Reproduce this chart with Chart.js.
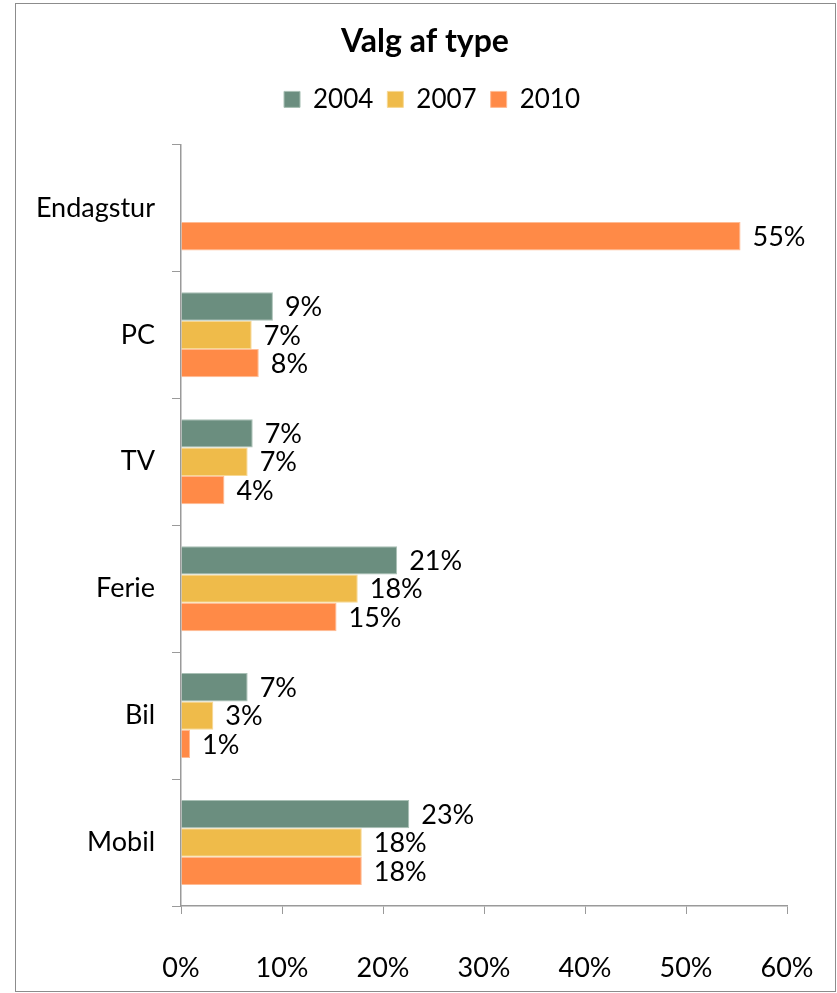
<!DOCTYPE html>
<html>
<head>
<meta charset="utf-8">
<script src="https://cdn.jsdelivr.net/npm/chart.js@4/dist/chart.umd.min.js"></script>
<style>
  html, body { margin: 0; padding: 0; background: #fff; }
  #wrap { position: relative; width: 837px; height: 993px; }
</style>
</head>
<body>
<div id="wrap"><canvas id="c" width="837" height="993"></canvas></div>
<script>
// Survey: chosen prize type, share of answers per year
const categories = ['Endagstur', 'PC', 'TV', 'Ferie', 'Bil', 'Mobil'];
const years = ['2004', '2007', '2010'];
const values2004 = [null, 9.1, 7.1, 21.4, 6.6, 22.6];
const values2007 = [null, 7.0, 6.6, 17.5, 3.2, 17.9];
const values2010 = [55.4, 7.7, 4.3, 15.4, 0.9, 17.9];
const xTicks = [0, 10, 20, 30, 40, 50, 60];

const FONT = 'Lato, "Open Sans", sans-serif';
const AXIS_GREY = '#9a9a9a';

// Percent labels written just past the end of each bar
const barLabels = {
  id: 'barLabels',
  afterDatasetsDraw(chart) {
    const ctx = chart.ctx;
    ctx.save();
    ctx.font = '27px ' + FONT;
    ctx.fillStyle = '#000';
    ctx.textAlign = 'left';
    ctx.textBaseline = 'middle';
    chart.data.datasets.forEach((ds, i) => {
      const meta = chart.getDatasetMeta(i);
      meta.data.forEach((el, j) => {
        const v = ds.data[j];
        if (v === null || v === undefined) return;
        ctx.fillText(Math.round(v) + '%', el.x + 12, el.y + 1);
      });
    });
    ctx.restore();
  }
};

// Extra room under the legend, and title/legend centred on the framed area
const headerLayout = {
  id: 'headerLayout',
  beforeLayout(chart) {
    const lg = chart.legend;
    if (lg && !lg._gapPatched) {
      lg._gapPatched = true;
      const baseFit = lg.fit;
      lg.fit = function () {
        baseFit.call(this);
        this.height += 22;
      };
    }
  },
  afterLayout(chart) {
    if (chart.titleBlock) {
      chart.titleBlock.left = 15;
      chart.titleBlock.right = 835;
      chart.titleBlock.width = 820;
    }
    if (chart.legend) {
      chart.legend.left = 29;
      chart.legend.right = 835;
      chart.legend.width = 806;
    }
  }
};

// Thin grey frame around the whole chart
const frame = {
  id: 'frame',
  afterDraw(chart) {
    const ctx = chart.ctx;
    ctx.save();
    ctx.strokeStyle = '#8c8c8c';
    ctx.lineWidth = 1;
    ctx.strokeRect(15.5, 3.5, 820, 988);
    ctx.restore();
  }
};

new Chart(document.getElementById('c'), {
  type: 'bar',
  data: {
    labels: categories,
    datasets: [
      { label: years[0], data: values2004, backgroundColor: '#6b8e7f', borderColor: '#a9c0b5', borderWidth: 1 },
      { label: years[1], data: values2007, backgroundColor: '#efbb4a', borderColor: '#f7d894', borderWidth: 1 },
      { label: years[2], data: values2010, backgroundColor: '#ff8a47', borderColor: '#ffbb94', borderWidth: 1 }
    ]
  },
  options: {
    indexAxis: 'y',
    responsive: false,
    animation: false,
    devicePixelRatio: 1,
    layout: { padding: { left: 0, right: 50, top: 0, bottom: 0 } },
    datasets: { bar: { categoryPercentage: 0.67, barPercentage: 1.0 } },
    plugins: {
      title: {
        display: true,
        text: 'Valg af type',
        color: '#000',
        font: { family: FONT, size: 32, weight: 'bold' },
        padding: { top: 22, bottom: 12 }
      },
      legend: {
        display: true,
        position: 'top',
        labels: {
          color: '#000',
          font: { family: FONT, size: 26 },
          boxWidth: 16,
          boxHeight: 16,
          padding: 14
        }
      },
      tooltip: { enabled: false }
    },
    scales: {
      x: {
        min: 0,
        max: 60,
        afterBuildTicks(scale) { scale.ticks = xTicks.map(v => ({ value: v })); },
        afterFit(scale) { scale.height = 87; },
        grid: { display: true, drawOnChartArea: false, drawTicks: true, tickLength: 8, color: AXIS_GREY },
        border: { display: true, color: AXIS_GREY, width: 1.5 },
        ticks: {
          color: '#000',
          font: { family: FONT, size: 27, lineHeight: 3.78 },
          padding: 3,
          maxRotation: 0,
          callback: v => v + '%'
        }
      },
      y: {
        afterFit(scale) { scale.width = 181; },
        grid: { display: true, offset: true, drawOnChartArea: false, drawTicks: true, tickLength: 9, color: AXIS_GREY },
        border: { display: true, color: AXIS_GREY, width: 1.5 },
        ticks: {
          color: '#000',
          font: { family: FONT, size: 27 },
          padding: 17
        }
      }
    }
  },
  plugins: [headerLayout, barLabels, frame]
});
</script>
</body>
</html>
